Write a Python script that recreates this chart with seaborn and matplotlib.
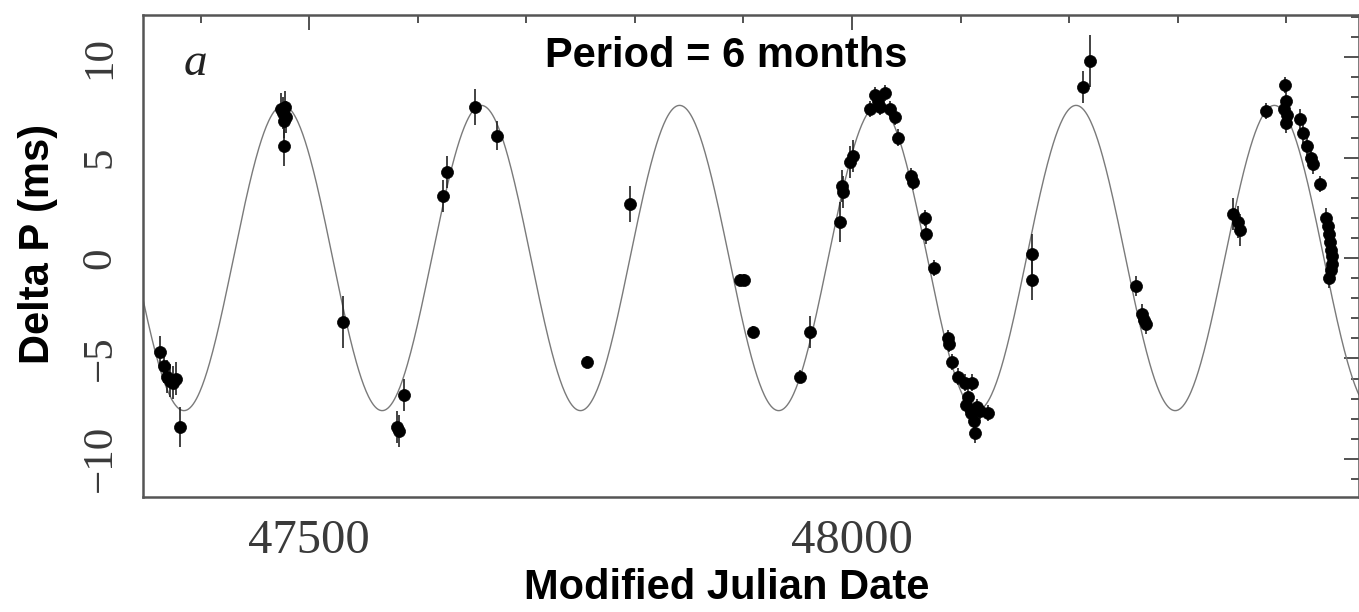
import numpy as np
import pandas as pd
import matplotlib
matplotlib.use("Agg")
import matplotlib.pyplot as plt
from matplotlib.ticker import MultipleLocator
import seaborn as sns

mjd = [47363, 47366, 47369, 47372, 47375, 47377, 47381,
       47474, 47476, 47479, 47477, 47478, 47477, 47531,
       47581, 47583, 47587, 47623, 47627, 47653, 47673,
       47756, 47796, 47897, 47901, 47909, 47952, 47961,
       47989, 47991, 47992, 47998, 48001, 48017, 48021, 48024, 48026,
       48030, 48035, 48040, 48042, 48054, 48056, 48067, 48068, 48076,
       48088, 48089, 48092, 48098, 48104, 48111, 48107, 48105, 48115,
       48110, 48118, 48125, 48113, 48112, 48166, 48166,
       48213, 48219, 48262, 48267, 48269, 48271, 48351, 48356, 48357,
       48381, 48399, 48400, 48398, 48401, 48400, 48413, 48415, 48419,
       48423, 48425, 48431, 48437, 48438, 48439, 48440, 48441, 48442,
       48442, 48441, 48439]
delta_p = [-4.7, -5.4, -5.9, -6.1, -6.2, -6.0, -8.4,
           7.4, 7.2, 7.0, 6.8, 7.5, 5.6, -3.2,
           -8.4, -8.6, -6.8, 3.1, 4.3, 7.5, 6.1,
           -5.2, 2.7, -1.1, -1.1, -3.7, -5.9, -3.7,
           1.8, 3.6, 3.3, 4.8, 5.1, 7.4, 8.1, 7.8, 7.5,
           8.2, 7.4, 7.0, 6.0, 4.1, 3.8, 2.0, 1.2, -0.5,
           -4.0, -4.3, -5.2, -5.9, -6.2, -6.2, -6.9, -7.3, -7.4,
           -7.7, -7.6, -7.7, -8.7, -8.1, 0.2, -1.1,
           8.5, 9.8, -1.4, -2.8, -3.1, -3.3, 2.2, 1.8, 1.4,
           7.3, 8.6, 7.8, 7.4, 7.1, 6.7, 6.9, 6.2, 5.6,
           5.0, 4.7, 3.7, 2.0, 1.6, 1.2, 0.8, 0.4, 0.1,
           -0.3, -0.6, -1.0]
delta_p_err = [0.8, 0.8, 0.8, 0.8, 0.8, 0.8, 1.0,
               0.8, 0.8, 0.8, 0.8, 0.8, 1.0, 1.3,
               0.8, 0.8, 0.8, 0.8, 0.8, 0.9, 0.7,
               0.3, 0.9, 0.3, 0.3, 0.3, 0.3, 0.8,
               1.0, 0.8, 0.8, 0.8, 0.8, 0.4, 0.4, 0.4, 0.4,
               0.4, 0.4, 0.4, 0.4, 0.4, 0.4, 0.4, 0.5, 0.4,
               0.4, 0.4, 0.4, 0.4, 0.4, 0.4, 0.4, 0.4, 0.4,
               0.4, 0.4, 0.4, 0.5, 0.4, 1.0, 1.0,
               0.8, 1.3, 0.5, 0.5, 0.5, 0.5, 0.8, 0.8, 0.8,
               0.4, 0.4, 0.5, 0.5, 0.5, 0.5, 0.5, 0.5, 0.5,
               0.5, 0.5, 0.4, 0.5, 0.5, 0.5, 0.5, 0.5, 0.5,
               0.5, 0.5, 0.5]

# Sinusoidal model drawn through the data (parameters)
fit_period_days = 182.6
fit_amplitude = 7.6
fit_peak_mjd = 47476

x_limits = (47347, 48467)
y_limits = (-11.9, 12.1)

points = pd.DataFrame({"MJD": mjd, "dP": delta_p, "err": delta_p_err})
t_model = np.linspace(x_limits[0], x_limits[1], 1500)
model = pd.DataFrame({
    "MJD": t_model,
    "dP": fit_amplitude * np.cos(2 * np.pi * (t_model - fit_peak_mjd) / fit_period_days),
})

sns.set_theme(style="white")
plt.rcParams["font.family"] = ["Liberation Sans", "DejaVu Sans"]

fig = plt.figure(figsize=(13.59, 6.12), dpi=100)
# axes box: left 143 px, right 1359 px, top 15 px, bottom 497 px
ax = fig.add_axes([143 / 1359, 1 - 497 / 612, 1216 / 1359, 482 / 612])

sns.lineplot(data=model, x="MJD", y="dP", ax=ax, color="#7a7a7a",
             linewidth=1.0, estimator=None, sort=False)
ax.errorbar(points["MJD"], points["dP"], yerr=points["err"], fmt="none",
            ecolor="#222222", elinewidth=1.2, capsize=0, zorder=3)
sns.scatterplot(data=points, x="MJD", y="dP", ax=ax, color="black",
                s=75, edgecolor="black", linewidth=0.5, zorder=4)

ax.set_xlim(*x_limits)
ax.set_ylim(*y_limits)

ax.xaxis.set_major_locator(MultipleLocator(500))
ax.xaxis.set_minor_locator(MultipleLocator(100))
ax.yaxis.set_major_locator(MultipleLocator(5))
ax.yaxis.set_minor_locator(MultipleLocator(1))

ax.tick_params(which="both", direction="in", top=True, right=True,
               color="#444444", width=1.3)
ax.tick_params(which="major", length=11)
ax.tick_params(which="minor", length=6)
ax.tick_params(axis="x", which="major", pad=16)
ax.tick_params(axis="y", which="major", pad=17)

for lab in ax.get_xticklabels():
    lab.set_fontfamily("Liberation Serif")
    lab.set_fontsize(35)
    lab.set_color("#3a3a3a")
for lab in ax.get_yticklabels():
    lab.set_fontfamily("Liberation Serif")
    lab.set_fontsize(31)
    lab.set_color("#3a3a3a")
    lab.set_rotation(90)
    lab.set_va("center")

for spine in ax.spines.values():
    spine.set_color("#555555")
    spine.set_linewidth(1.8)

ax.set_xlabel("Modified Julian Date", fontsize=30, fontweight="bold",
              color="black")
ax.set_ylabel("Delta P (ms)", fontsize=30, fontweight="bold",
              color="black")
ax.xaxis.set_label_coords(0.480, -0.148)
ax.yaxis.set_label_coords(-0.070, 0.525)

ax.text(0.480, 0.892, "Period = 6 months", transform=ax.transAxes,
        ha="center", va="baseline", fontsize=30, fontweight="bold",
        color="black")
ax.text(0.033, 0.876, "a", transform=ax.transAxes, ha="left", va="baseline",
        fontsize=34, fontstyle="italic", family="Liberation Serif",
        color="#222222")

fig.savefig("out.png", dpi=100)
